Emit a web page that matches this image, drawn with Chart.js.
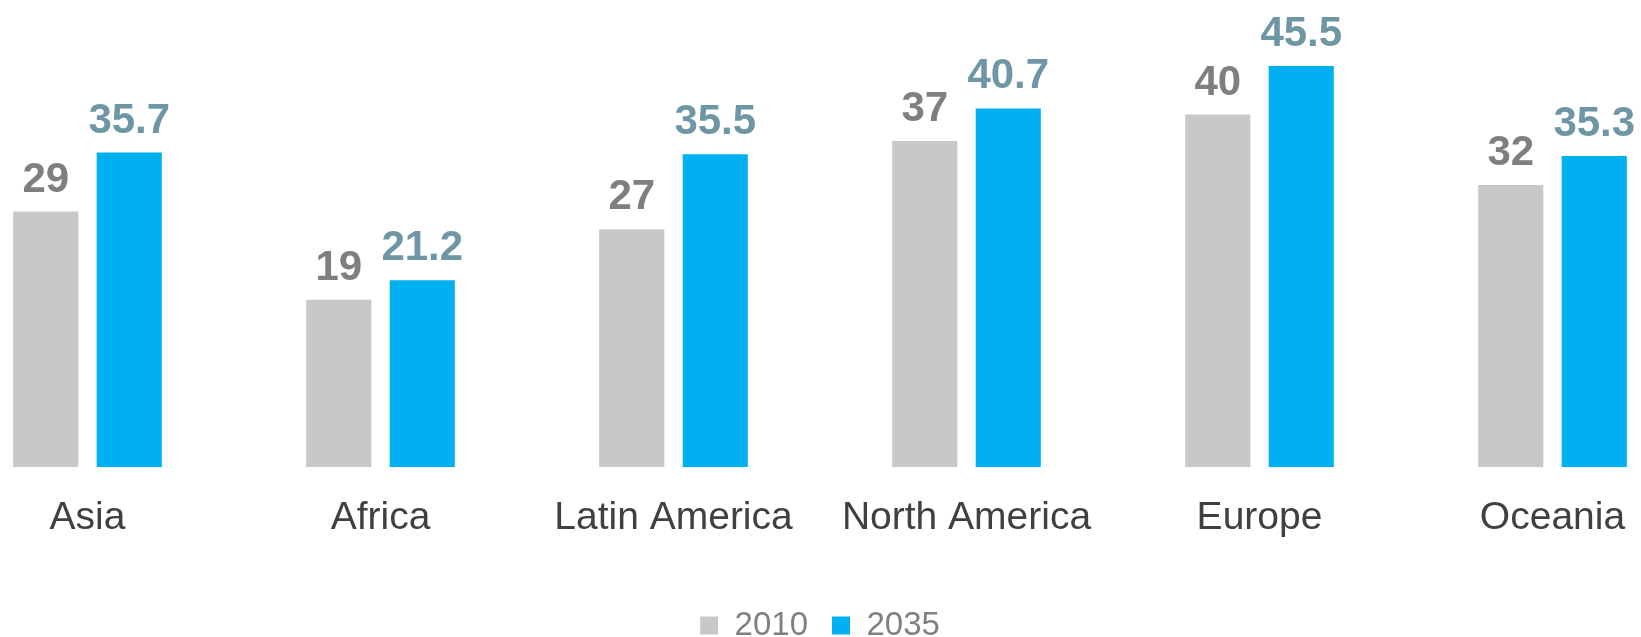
<!DOCTYPE html>
<html>
<head>
<meta charset="utf-8">
<script src="https://cdn.jsdelivr.net/npm/chart.js@4"></script>
<style>
    html, body { margin: 0; padding: 0; background: #fff; overflow: hidden; }
    #wrap { position: absolute; left: -59px; top: 0; width: 1758px; height: 637px; }
</style>
</head>
<body>
<div id="wrap"><canvas id="chart" width="1758" height="637"></canvas></div>
<script>
const regions = ['Asia', 'Africa', 'Latin America', 'North America', 'Europe', 'Oceania'];
const values2010 = [29, 19, 27, 37, 40, 32];
const values2035 = [35.7, 21.2, 35.5, 40.7, 45.5, 35.3];
const seriesNames = ['2010', '2035'];

const FONT = '"Liberation Sans", Arial, sans-serif';

// draws the value above each bar
const valueLabels = {
    id: 'valueLabels',
    afterDatasetsDraw(chart) {
        const ctx = chart.ctx;
        ctx.save();
        ctx.font = 'bold 42px ' + FONT;
        ctx.textAlign = 'center';
        ctx.textBaseline = 'alphabetic';
        chart.data.datasets.forEach((ds, i) => {
            const meta = chart.getDatasetMeta(i);
            ctx.fillStyle = ds.labelColor;
            meta.data.forEach((bar, j) => {
                ctx.fillText(String(ds.data[j]), bar.x, bar.y - 20);
            });
        });
        ctx.restore();
    }
};

new Chart(document.getElementById('chart').getContext('2d'), {
    type: 'bar',
    data: {
        labels: regions,
        datasets: [{
            label: seriesNames[0],
            data: values2010,
            backgroundColor: '#C8C8C7',
            labelColor: '#7F7F7F',
            categoryPercentage: 0.57,
            barPercentage: 0.78
        }, {
            label: seriesNames[1],
            data: values2035,
            backgroundColor: '#00B0F0',
            labelColor: '#6F96A4',
            categoryPercentage: 0.57,
            barPercentage: 0.78
        }]
    },
    options: {
        responsive: false,
        animation: false,
        layout: { padding: { top: 0, bottom: -15 } },
        plugins: {
            tooltip: { enabled: false },
            legend: {
                position: 'bottom',
                labels: {
                    boxWidth: 18,
                    boxHeight: 18,
                    padding: 24,
                    color: '#808080',
                    font: { family: FONT, size: 33 }
                }
            }
        },
        scales: {
            x: {
                grid: { display: false },
                border: { display: false },
                ticks: {
                    color: '#404040',
                    padding: 20,
                    font: { family: FONT, size: 39 }
                },
                afterFit(axis) {
                    axis.height += 23; // empty band between labels and legend
                }
            },
            y: {
                display: false,
                min: 0,
                max: 53
            }
        }
    },
    plugins: [valueLabels]
});
</script>
</body>
</html>
